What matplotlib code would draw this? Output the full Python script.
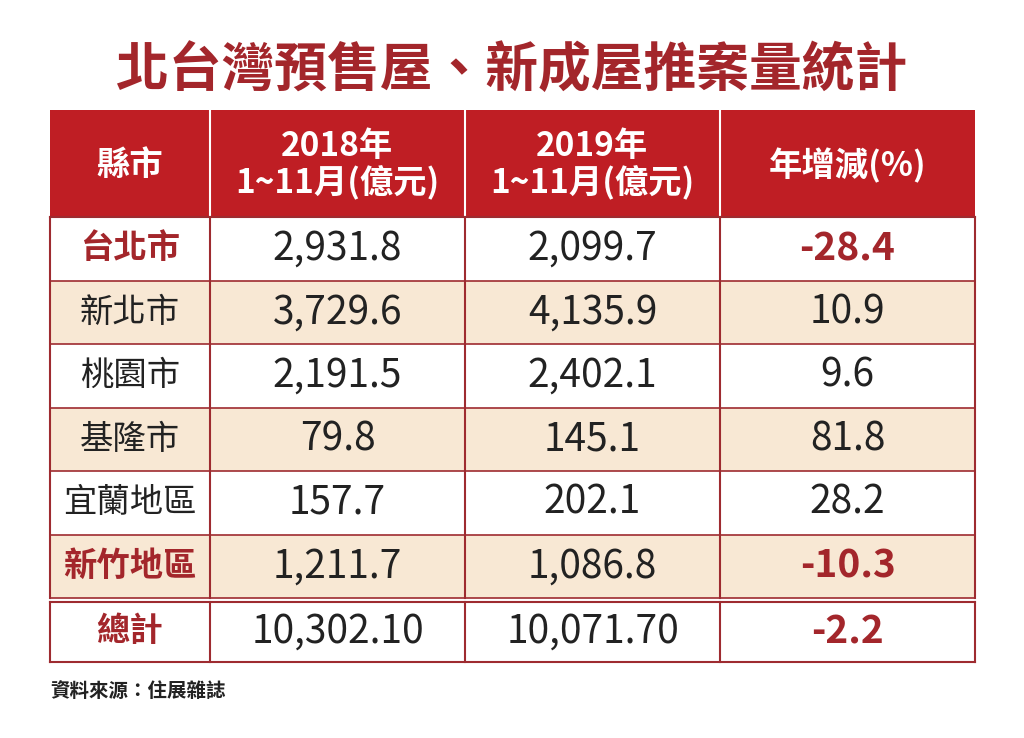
import matplotlib
matplotlib.use("Agg")
import matplotlib.pyplot as plt
from matplotlib.patches import Rectangle

plt.rcParams['font.family'] = ['Noto Sans CJK TC', 'DejaVu Sans']

title = "北台灣預售屋、新成屋推案量統計"
headers = ["縣市", "2018年\n1~11月(億元)", "2019年\n1~11月(億元)", "年增減(%)"]
regions = ["台北市", "新北市", "桃園市", "基隆市", "宜蘭地區", "新竹地區"]
v2018 = ["2,931.8", "3,729.6", "2,191.5", "79.8", "157.7", "1,211.7"]
v2019 = ["2,099.7", "4,135.9", "2,402.1", "145.1", "202.1", "1,086.8"]
change = ["-28.4", "10.9", "9.6", "81.8", "28.2", "-10.3"]
total_label = "總計"
total_2018 = "10,302.10"
total_2019 = "10,071.70"
total_change = "-2.2"
source = "資料來源：住展雜誌"

RED = "#bf1e24"
DARK = "#a3262b"
LINE = "#9e2b30"
BEIGE = "#f8e8d4"
TEXT = "#222222"

fig = plt.figure(figsize=(10.24, 7.38), dpi=100)
ax = fig.add_axes([0, 0, 1, 1])
ax.set_xlim(0, 1024)
ax.set_ylim(738, 0)
ax.axis("off")

col_x = [50, 210, 465, 720, 975]
header_y = (110, 217)
row_h = 63.5
row_top = 217
total_top = 602
total_bot = 662

NUM = 28
LAB = 24

ax.text(512, 70, title, ha="center", va="center", fontsize=38, fontweight="bold", color=DARK)

# header
ax.add_patch(Rectangle((col_x[0], header_y[0]), col_x[-1]-col_x[0], header_y[1]-header_y[0],
                       facecolor=RED, edgecolor="none"))
for i, h in enumerate(headers):
    cx = (col_x[i] + col_x[i+1]) / 2
    ax.text(cx, (header_y[0]+header_y[1])/2 + 2, h, ha="center", va="center",
            fontsize=24, fontweight="bold", color="white", linespacing=1.1)
for x in col_x[1:-1]:
    ax.plot([x, x], header_y, color="white", lw=1.5)

# body rows
neg_rows = [i for i, c in enumerate(change) if c.startswith("-")]
for r in range(len(regions)):
    y0 = row_top + r * row_h
    fc = BEIGE if r % 2 == 1 else "white"
    ax.add_patch(Rectangle((col_x[0], y0), col_x[-1]-col_x[0], row_h, facecolor=fc, edgecolor="none"))
    yc = y0 + row_h / 2
    red_row = r in neg_rows
    ax.text((col_x[0]+col_x[1])/2, yc, regions[r], ha="center", va="center", fontsize=LAB,
            fontweight="bold" if red_row else "normal", color=DARK if red_row else TEXT)
    ax.text((col_x[1]+col_x[2])/2, yc, v2018[r], ha="center", va="center", fontsize=NUM, color=TEXT)
    ax.text((col_x[2]+col_x[3])/2, yc, v2019[r], ha="center", va="center", fontsize=NUM, color=TEXT)
    ax.text((col_x[3]+col_x[4])/2, yc, change[r], ha="center", va="center", fontsize=NUM,
            fontweight="bold" if red_row else "normal", color=DARK if red_row else TEXT)

body_bot = row_top + len(regions) * row_h
# total row
tyc = (total_top + total_bot) / 2
ax.text((col_x[0]+col_x[1])/2, tyc, total_label, ha="center", va="center", fontsize=LAB,
        fontweight="bold", color=DARK)
ax.text((col_x[1]+col_x[2])/2, tyc, total_2018, ha="center", va="center", fontsize=NUM, color=TEXT)
ax.text((col_x[2]+col_x[3])/2, tyc, total_2019, ha="center", va="center", fontsize=NUM, color=TEXT)
ax.text((col_x[3]+col_x[4])/2, tyc, total_change, ha="center", va="center", fontsize=NUM,
        fontweight="bold", color=DARK)

# grid lines
for x in col_x:
    ax.plot([x, x], [header_y[1], body_bot], color=LINE, lw=1.5)
    ax.plot([x, x], [total_top, total_bot], color=LINE, lw=1.5)
for r in range(1, len(regions)+1):
    y = row_top + r * row_h
    ax.plot([col_x[0], col_x[-1]], [y, y], color=LINE, lw=1.2)
ax.plot([col_x[0], col_x[-1]], [total_top, total_top], color=LINE, lw=1.5)
ax.plot([col_x[0], col_x[-1]], [total_bot, total_bot], color=LINE, lw=1.5)
ax.plot([col_x[0], col_x[-1]], [header_y[1], header_y[1]], color=LINE, lw=1.5)

ax.text(50, 691, source, ha="left", va="center", fontsize=14, fontweight="bold", color=TEXT)

fig.savefig("out.png", dpi=100)
